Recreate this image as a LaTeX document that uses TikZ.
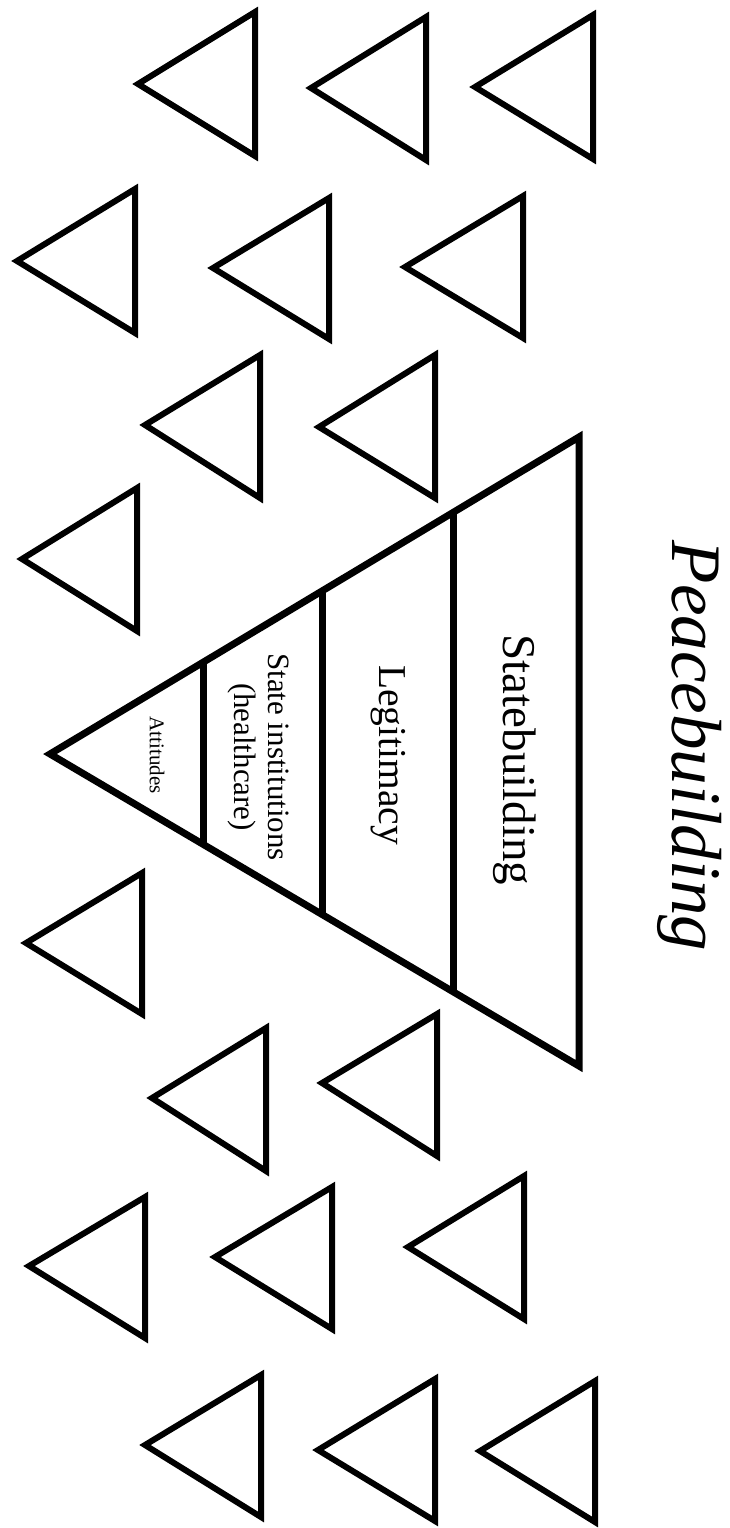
\documentclass[tikz,border=0pt]{standalone}
\usepackage{fontspec}
\setmainfont{Liberation Serif}
\usetikzlibrary{calc}
\begin{document}
\begin{tikzpicture}[x=1pt,y=-1pt,
    tri/.style={draw=black,line width=6pt,line join=miter},
    pyr/.style={draw=black,line width=7pt},
    lvl/.style={rotate=-90,inner sep=0pt,align=center}]
  \useasboundingbox (0,0) rectangle (729,1528);
  %-------------------------------------------------- the small triangles
  \foreach \ax/\ay/\bx/\ty/\by in {
      138/84/255/12/156,   311/88/426/17/160,   475/87/593/15/159,
      17/261/135/189/333,  213/268/329/198/339, 405/267/523/196/338,
      145/425/260/355/498, 319/427/435/355/498, 22/559/137/488/631,
      26/943/142/873/1014, 152/1098/266/1028/1171, 322/1083/437/1014/1156,
      29/1266/145/1197/1338, 215/1257/332/1187/1329, 408/1247/524/1176/1319,
      145/1445/261/1375/1517, 318/1450/435/1379/1521, 480/1451/595/1381/1522}{
    \draw[tri] (\ax,\ay) -- (\bx,\ty) -- (\bx,\by) -- cycle;
  }
  %-------------------------------------------------- the pyramid
  \coordinate (apex) at (50,754);
  \coordinate (top) at (579,437);
  \coordinate (bot) at (579,1066);
  \draw[pyr] (apex) -- (top) -- (bot) -- cycle;
  \foreach \f in {0.763,0.515,0.291}{
    \draw[pyr] ($(apex)!\f!(top)$) -- ($(apex)!\f!(bot)$);
  }
  \node[lvl,font=\fontsize{47}{56}\selectfont] (state) at (515,760)
    {Statebuilding};
  \node[lvl,font=\fontsize{39.5}{47}\selectfont] (legit) at (388,755)
    {Legitimacy};
  \node[lvl,font=\fontsize{31}{34}\selectfont] (inst) at (258,757)
    {State institutions\\(healthcare)};
  \node[lvl,font=\fontsize{21}{25}\selectfont] (att) at (157,755)
    {Attitudes};
  %-------------------------------------------------- the title
  \node[lvl,font=\fontsize{71}{85}\itshape] (title) at (690,746)
    {Peacebuilding};
\end{tikzpicture}
\end{document}
